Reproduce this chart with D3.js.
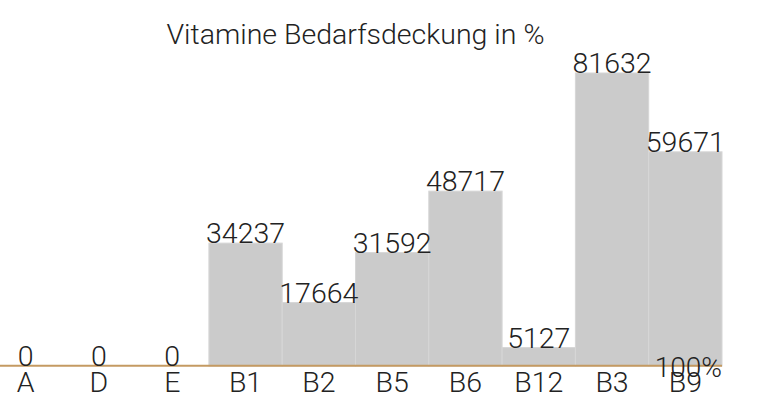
<!DOCTYPE html>
<html>
<head>
    <meta charset="utf-8">
    <title>Vitamine Bedarfsdeckung</title>
    <script src="https://d3js.org/d3.v7.min.js"></script>
    <style>
        body {
            background: #fff;
            margin: 0;
            font-family: Roboto, "Noto Sans", sans-serif;
        }
        .bar {
            fill: #cbcbcb;
            stroke: #d6d6d6;
            stroke-width: 1px;
        }
        .label, .cat, .title, .ref-label {
            fill: #222;
        }
    </style>
</head>
<body>
    <svg id="chart" width="762" height="400"></svg>

    <script>
        // Daten
        const categories = ["A", "D", "E", "B1", "B2", "B5", "B6", "B12", "B3", "B9"];
        const values = [0, 0, 0, 34237, 17664, 31592, 48717, 5127, 81632, 59671];
        const refValue = 100;
        const refText = "100%";
        const titleText = "Vitamine Bedarfsdeckung in %";

        const svg = d3.select("#chart");
        const baseY = 366, topY = 73;

        const x = d3.scaleBand()
            .domain(categories)
            .range([-11, 722])
            .padding(0);

        const y = d3.scaleLinear()
            .domain([0, d3.max(values)])
            .range([baseY, topY]);

        const data = categories.map((c, i) => ({cat: c, val: values[i]}));

        // Titel
        svg.append("text")
            .attr("class", "title")
            .attr("x", (x.range()[0] + x.range()[1]) / 2)
            .attr("y", 44)
            .attr("text-anchor", "middle")
            .attr("font-size", 28.5)
            .attr("font-weight", 300)
            .text(titleText);

        // Balken
        svg.selectAll(".bar")
            .data(data)
            .enter()
            .append("rect")
            .attr("class", "bar")
            .attr("x", d => x(d.cat))
            .attr("y", d => y(d.val))
            .attr("width", x.bandwidth())
            .attr("height", d => y(0) - y(d.val));

        // Referenzlinie (100%)
        svg.append("line")
            .attr("x1", 0)
            .attr("x2", x.range()[1])
            .attr("y1", y(refValue))
            .attr("y2", y(refValue))
            .attr("stroke", "#c49a62")
            .attr("stroke-width", 2);

        // Werte
        svg.selectAll(".label")
            .data(data)
            .enter()
            .append("text")
            .attr("class", "label")
            .attr("x", d => x(d.cat) + x.bandwidth() / 2)
            .attr("y", d => y(d.val))
            .attr("text-anchor", "middle")
            .attr("font-size", 28.5)
            .attr("font-weight", 300)
            .text(d => d.val);

        // Kategorien
        svg.selectAll(".cat")
            .data(data)
            .enter()
            .append("text")
            .attr("class", "cat")
            .attr("x", d => x(d.cat) + x.bandwidth() / 2)
            .attr("y", 392)
            .attr("text-anchor", "middle")
            .attr("font-size", 28.5)
            .attr("font-weight", 300)
            .text(d => d.cat);

        svg.append("text")
            .attr("class", "ref-label")
            .attr("x", x.range()[1])
            .attr("y", y(refValue) + 11)
            .attr("text-anchor", "end")
            .attr("font-size", 28)
            .attr("font-weight", 300)
            .text(refText);
    </script>
</body>
</html>
